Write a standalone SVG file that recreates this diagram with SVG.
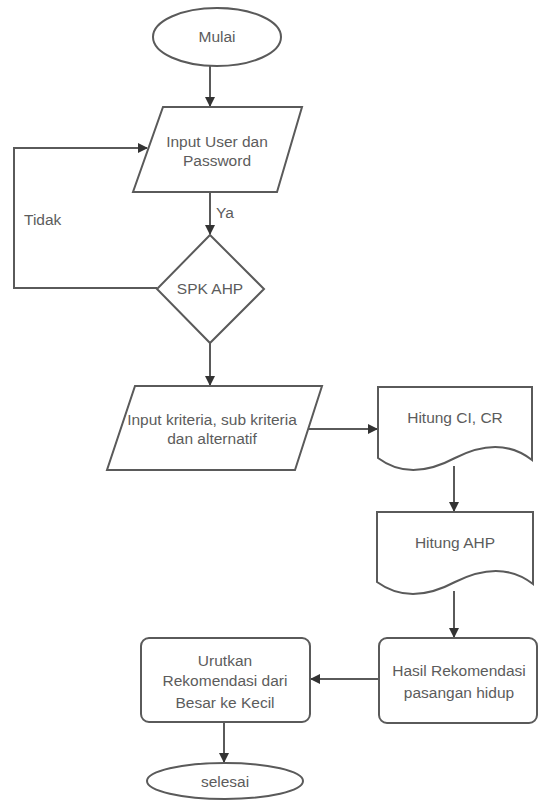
<svg xmlns="http://www.w3.org/2000/svg" width="539" height="800" viewBox="0 0 539 800">
<defs>
<style>
.s{fill:#fff;stroke:#5a5a5a;stroke-width:2}
.c{fill:none;stroke:#5a5a5a;stroke-width:2}
text{font-family:"Liberation Sans",Arial,sans-serif;font-size:15.5px;fill:#5c5c5c;text-anchor:middle}
.l{text-anchor:start}
</style>
<marker id="a" viewBox="0 0 10 10" refX="9" refY="5" markerWidth="5" markerHeight="5" orient="auto"><path d="M0,0 L10,5 L0,10 Z" fill="#333"/></marker>
</defs>
<rect width="539" height="800" fill="#fff"/>
<g id="connectors">
<path class="c" d="M210,65 V106" marker-end="url(#a)"/>
<path class="c" d="M210,192 V234" marker-end="url(#a)"/>
<path class="c" d="M157,288 H14 V148 H147" marker-end="url(#a)"/>
<path class="c" d="M210,343 V385" marker-end="url(#a)"/>
<path class="c" d="M308,429 H377" marker-end="url(#a)"/>
<path class="c" d="M454,466 V511" marker-end="url(#a)"/>
<path class="c" d="M454,591 V637" marker-end="url(#a)"/>
<path class="c" d="M379,679 H311" marker-end="url(#a)"/>
<path class="c" d="M224,722 V762" marker-end="url(#a)"/>
<text class="l" x="24" y="225">Tidak</text>
<text class="l" x="216" y="218">Ya</text>
</g>
<g id="mulai"><ellipse class="s" cx="217" cy="37" rx="64" ry="29"/><text x="217" y="42">Mulai</text></g>
<g id="input-user"><path class="s" d="M163,107 H302 L277,192 H133 Z"/><text x="217" y="147">Input User dan</text><text x="217" y="166">Password</text></g>
<g id="spk-ahp"><path class="s" d="M210,235 L264,289 L210,343 L157,289 Z"/><text x="210" y="294">SPK AHP</text></g>
<g id="input-kriteria"><path class="s" d="M135,386 H322 L295,470 H107 Z"/><text x="212" y="425">Input kriteria, sub kriteria</text><text x="212" y="444">dan alternatif</text></g>
<g id="hitung-ci-cr"><path class="s" d="M378,387 H532 V460 Q500,435 455,458 Q410,482 378,458 Z"/><text x="455" y="423">Hitung CI, CR</text></g>
<g id="hitung-ahp"><path class="s" d="M377,512 H533 V584 Q501,559 455,582 Q410,606 377,582 Z"/><text x="455" y="548">Hitung AHP</text></g>
<g id="hasil"><rect class="s" x="379" y="638" width="158" height="85" rx="8"/><text x="459" y="676">Hasil Rekomendasi</text><text x="459" y="698">pasangan hidup</text></g>
<g id="urutkan"><rect class="s" x="141" y="638" width="169" height="84" rx="8"/><text x="225" y="666">Urutkan</text><text x="225" y="686">Rekomendasi dari</text><text x="225" y="708">Besar ke Kecil</text></g>
<g id="selesai"><ellipse class="s" cx="225" cy="781" rx="78" ry="18"/><text x="225" y="787">selesai</text></g>
</svg>
